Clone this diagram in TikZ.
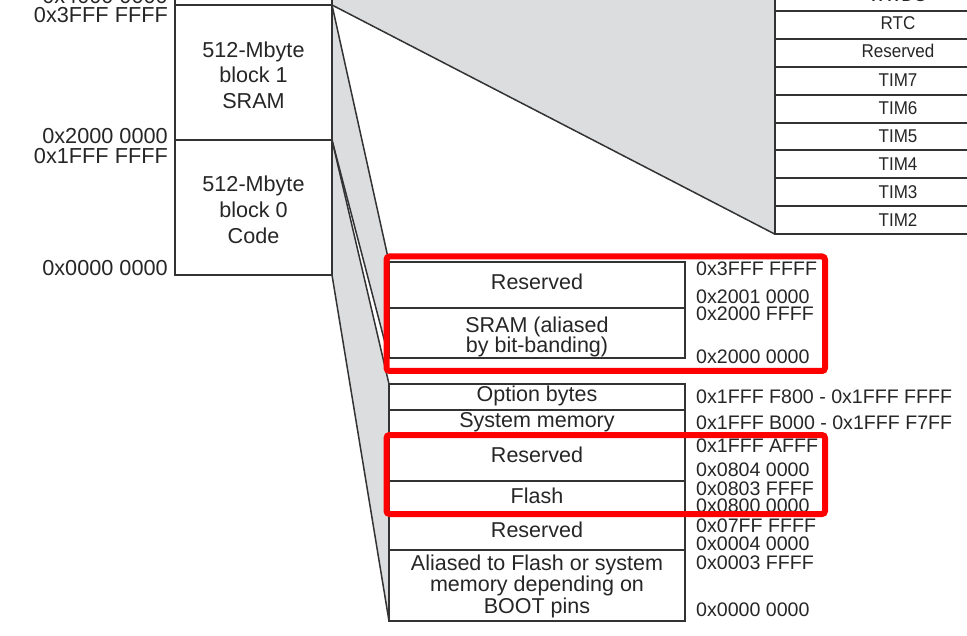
\documentclass[tikz,border=0pt]{standalone}
\usepackage{fontspec}
\setmainfont{Liberation Sans}
\usepackage{graphicx}
\usetikzlibrary{backgrounds}
\definecolor{ln}{HTML}{333333}
\definecolor{fangray}{HTML}{DCDDDF}
\definecolor{txt}{HTML}{262626}
\definecolor{hl}{HTML}{FF0000}
\begin{document}
\begin{tikzpicture}[x=1pt,y=-1pt,
  box/.style={draw=ln, line width=2pt, fill=white, inner sep=0pt, outer sep=0pt, anchor=north west},
  fanline/.style={draw=ln, line width=1.5pt},
  tt/.style={text=txt, inner sep=0pt, anchor=base, font=\fontsize{21.5}{21.5}\selectfont},
  addr/.style={text=txt, inner sep=0pt, anchor=base west, font=\fontsize{19.6}{19.6}\selectfont},
  laddr/.style={text=txt, inner sep=0pt, anchor=base east, font=\fontsize{21.7}{21.7}\selectfont},
  perif/.style={text=txt, inner sep=0pt, anchor=base, font=\fontsize{18.5}{18.5}\selectfont},
  hlbox/.style={draw=hl, line width=6pt, rounded corners=3pt, inner sep=0pt, outer sep=0pt, anchor=north west}]
\useasboundingbox (0,0) rectangle (967,636);

% left blocks
\node[box, minimum width=157pt, minimum height=135pt] (blk2) at (175,-130) {};
\node[box, minimum width=157pt, minimum height=135pt] (blk1) at (175,5) {};
\node[box, minimum width=157pt, minimum height=135pt] (blk0) at (175,140) {};

% top right peripheral table
\node[box, minimum width=246pt, minimum height=27.9pt] (wwdg) at (775,-16.9) {};
\node[box, minimum width=246pt, minimum height=27.9pt] (rtc) at (775,11) {};
\node[box, minimum width=246pt, minimum height=27.9pt] (pres) at (775,38.9) {};
\node[box, minimum width=246pt, minimum height=27.9pt] (tim7) at (775,66.8) {};
\node[box, minimum width=246pt, minimum height=27.9pt] (tim6) at (775,94.7) {};
\node[box, minimum width=246pt, minimum height=27.9pt] (tim5) at (775,122.6) {};
\node[box, minimum width=246pt, minimum height=27.9pt] (tim4) at (775,150.5) {};
\node[box, minimum width=246pt, minimum height=27.9pt] (tim3) at (775,178.4) {};
\node[box, minimum width=246pt, minimum height=27.9pt] (tim2) at (775,206.3) {};

% SRAM table
\node[box, minimum width=296pt, minimum height=46pt] (srres) at (389,262) {};
\node[box, minimum width=296pt, minimum height=50pt] (srram) at (389,308) {};

% code table
\node[box, minimum width=296pt, minimum height=26pt] (opt) at (389,384) {};
\node[box, minimum width=296pt, minimum height=26pt] (sys) at (389,410) {};
\node[box, minimum width=296pt, minimum height=45pt] (cres) at (389,436) {};
\node[box, minimum width=296pt, minimum height=32pt] (flash) at (389,481) {};
\node[box, minimum width=296pt, minimum height=37pt] (cres2) at (389,513) {};
\node[box, minimum width=296pt, minimum height=71pt] (alias) at (389,550) {};

% fans
\begin{scope}[on background layer]
\fill[fangray] (blk2.north east) -- (blk1.north east) -- (tim2.south west) -- (wwdg.north west) -- cycle;
\fill[fangray] (blk1.north east) -- (srres.north west) -- (srram.south west) -- (blk1.south east) -- cycle;
\fill[fangray] (blk0.north east) -- (opt.north west) -- (alias.south west) -- (blk0.south east) -- cycle;
\end{scope}
\draw[fanline] (blk2.north east) -- (wwdg.north west);
\draw[fanline] (blk1.north east) -- (tim2.south west);
\draw[fanline] (blk1.north east) -- (srres.north west);
\draw[fanline] (blk1.south east) -- (srram.south west);
\draw[fanline] (blk0.north east) -- (opt.north west);
\draw[fanline] (blk0.south east) -- (alias.south west);

% left address labels
\node[laddr] (la1) at (168,4) {0x4000 0000};
\node[laddr] (la2) at (168,23) {0x3FFF FFFF};
\node[laddr] (la3) at (168,144) {0x2000 0000};
\node[laddr] (la4) at (168,164) {0x1FFF FFFF};
\node[laddr] (la5) at (168,276) {0x0000 0000};

% block texts
\node[tt, font=\fontsize{21.6}{21.6}\selectfont] (b1a) at (253.5,58) {512-Mbyte};
\node[tt, font=\fontsize{21.6}{21.6}\selectfont] (b1b) at (253.5,83) {block 1};
\node[tt, font=\fontsize{21.6}{21.6}\selectfont] (b1c) at (253.5,108.5) {SRAM};
\node[tt, font=\fontsize{21.6}{21.6}\selectfont] (b0a) at (253.5,192) {512-Mbyte};
\node[tt, font=\fontsize{21.6}{21.6}\selectfont] (b0b) at (253.5,218) {block 0};
\node[tt, font=\fontsize{21.6}{21.6}\selectfont] (b0c) at (253.5,244) {Code};

% peripheral texts
\node[perif] (pw) at (898,1.7) {\scalebox{0.92}[1]{WWDG}};
\node[perif] (pr) at (898,29.5) {\scalebox{0.92}[1]{RTC}};
\node[perif] (pe) at (898,58) {\scalebox{0.92}[1]{Reserved}};
\node[perif] (p7) at (898,86.7) {\scalebox{0.92}[1]{TIM7}};
\node[perif] (p6) at (898,115) {\scalebox{0.92}[1]{TIM6}};
\node[perif] (p5) at (898,142.7) {\scalebox{0.92}[1]{TIM5}};
\node[perif] (p4) at (898,170.7) {\scalebox{0.92}[1]{TIM4}};
\node[perif] (p3) at (898,199) {\scalebox{0.92}[1]{TIM3}};
\node[perif] (p2) at (898,226.7) {\scalebox{0.92}[1]{TIM2}};

% SRAM table texts
\node[tt] (s1) at (537,290) {Reserved};
\node[tt] (s2) at (537,333) {SRAM (aliased};
\node[tt] (s3) at (537,353) {by bit-banding)};

% code table texts
\node[tt] (c1) at (537,402) {Option bytes};
\node[tt] (c2) at (537,428) {System memory};
\node[tt] (c3) at (537,462) {Reserved};
\node[tt] (c4) at (537,503) {Flash};
\node[tt] (c5) at (537,537) {Reserved};
\node[tt] (c6) at (537,570) {Aliased to Flash or system};
\node[tt] (c7) at (537,591.5) {memory depending on};
\node[tt] (c8) at (537,613) {BOOT pins};

% right address labels
\node[addr] (r1) at (696,276) {0x3FFF FFFF};
\node[addr] (r2) at (696,304) {0x2001 0000};
\node[addr] (r3) at (696,321) {0x2000 FFFF};
\node[addr] (r4) at (696,364) {0x2000 0000};
\node[addr] (r5) at (696,403) {0x1FFF F800 - 0x1FFF FFFF};
\node[addr] (r6) at (696,429) {0x1FFF B000 - 0x1FFF F7FF};
\node[addr] (r7) at (696,452) {0x1FFF AFFF};
\node[addr] (r8) at (696,476) {0x0804 0000};
\node[addr] (r9) at (696,495) {0x0803 FFFF};
\node[addr] (r10) at (696,512) {0x0800 0000};
\node[addr] (r11) at (696,532) {0x07FF FFFF};
\node[addr] (r12) at (696,550) {0x0004 0000};
\node[addr] (r13) at (696,569) {0x0003 FFFF};
\node[addr] (r14) at (696,616) {0x0000 0000};

% highlight boxes
\node[hlbox, minimum width=438.5pt, minimum height=114.5pt] (hl1) at (386.5,256.5) {};
\node[hlbox, minimum width=438.5pt, minimum height=79pt] (hl2) at (386.5,435) {};
\end{tikzpicture}
\end{document}
